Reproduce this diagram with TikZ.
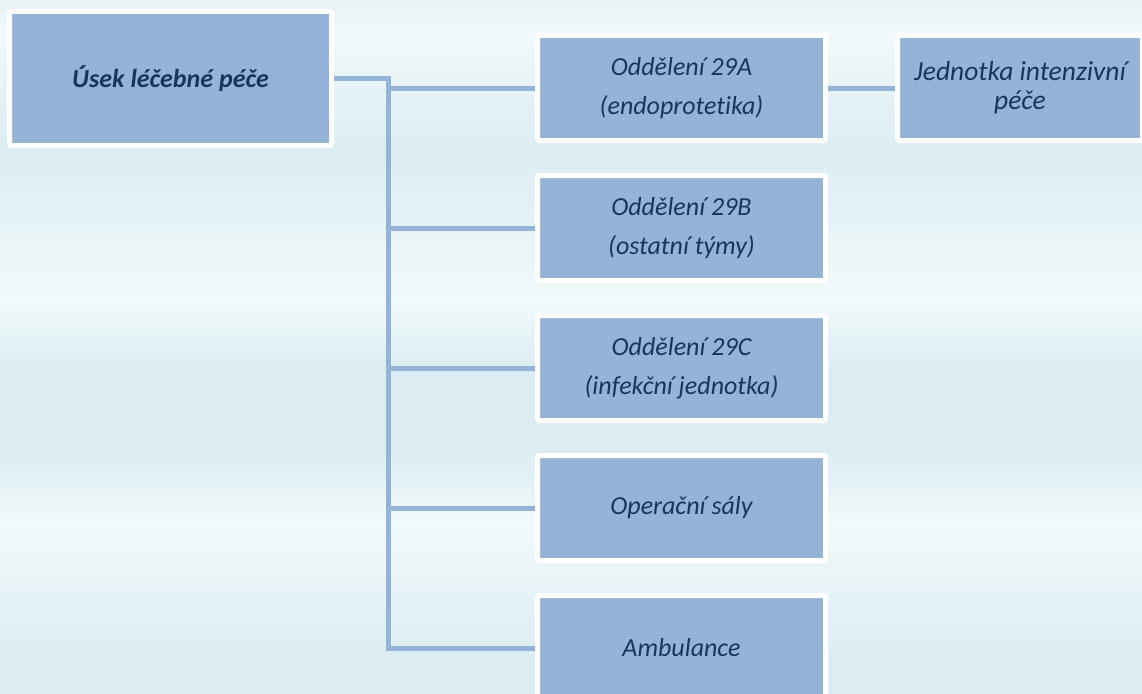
\documentclass[tikz,border=0pt]{standalone}
\usepackage{fontspec}
\setmainfont{Carlito}[Ligatures=NoCommon]
\usetikzlibrary{positioning}

\definecolor{boxblue}{HTML}{95B3D7}
\definecolor{textnavy}{HTML}{17365D}
\definecolor{bglight}{HTML}{F2F9FB}
\definecolor{bgdark}{HTML}{DBEDF2}
\definecolor{bgtop}{HTML}{E6F2F6}

\begin{document}
\begin{tikzpicture}[
    x=1pt, y=-1pt,
    node distance=30pt,
    unit/.style={
        draw=white,
        line width=5pt,
        fill=boxblue,
        rounded corners=2pt,
        minimum width=288pt,
        minimum height=105pt,
        align=center,
        text=textnavy,
        font=\fontsize{26}{39}\selectfont\itshape
    },
    link/.style={draw=boxblue, line width=5pt}
]
    % page and background bands
    \useasboundingbox (0,0) rectangle (1142,693);
    \clip (0,0) rectangle (1142,693);
    \foreach \ya/\yb/\ca/\cb in {0/30/bgtop/bglight, 30/150/bglight/bgdark,
        150/300/bgdark/bglight, 300/370/bglight/bgdark, 370/450/bgdark/bgdark,
        450/525/bgdark/bglight, 525/660/bglight/bgdark, 660/694/bgdark/bgdark}
        \shade[top color=\ca, bottom color=\cb] (-1,\ya-0.5) rectangle (1143,\yb+0.5);

    \node[unit, minimum width=322pt, minimum height=134pt,
          font=\fontsize{26}{39}\selectfont\bfseries\itshape] (usek) at (170.5,78.5) {Úsek léčebné péče};
    \node[unit] (odd29a) at (681.5,88) {Oddělení 29A\\(endoprotetika)};
    \node[unit, below=of odd29a] (odd29b) {Oddělení 29B\\(ostatní týmy)};
    \node[unit, below=of odd29b] (odd29c) {Oddělení 29C\\(infekční jednotka)};
    \node[unit, below=of odd29c] (saly) {Operační sály};
    \node[unit, below=of saly] (amb) {Ambulance};
    \node[unit, minimum width=245pt, right=67pt of odd29a,
          font=\fontsize{27.5}{29}\selectfont\itshape] (jip) {Jednotka intenzivní\\péče};

    \coordinate (trunk) at (388,78.5);
    \draw[link] (usek.east) -- (trunk) |- (amb.west);
    \foreach \dept in {odd29a, odd29b, odd29c, saly}
        \draw[link] (trunk |- \dept.west) -- (\dept.west);
    \draw[link] (odd29a.east) -- (jip.west);

\end{tikzpicture}
\end{document}
